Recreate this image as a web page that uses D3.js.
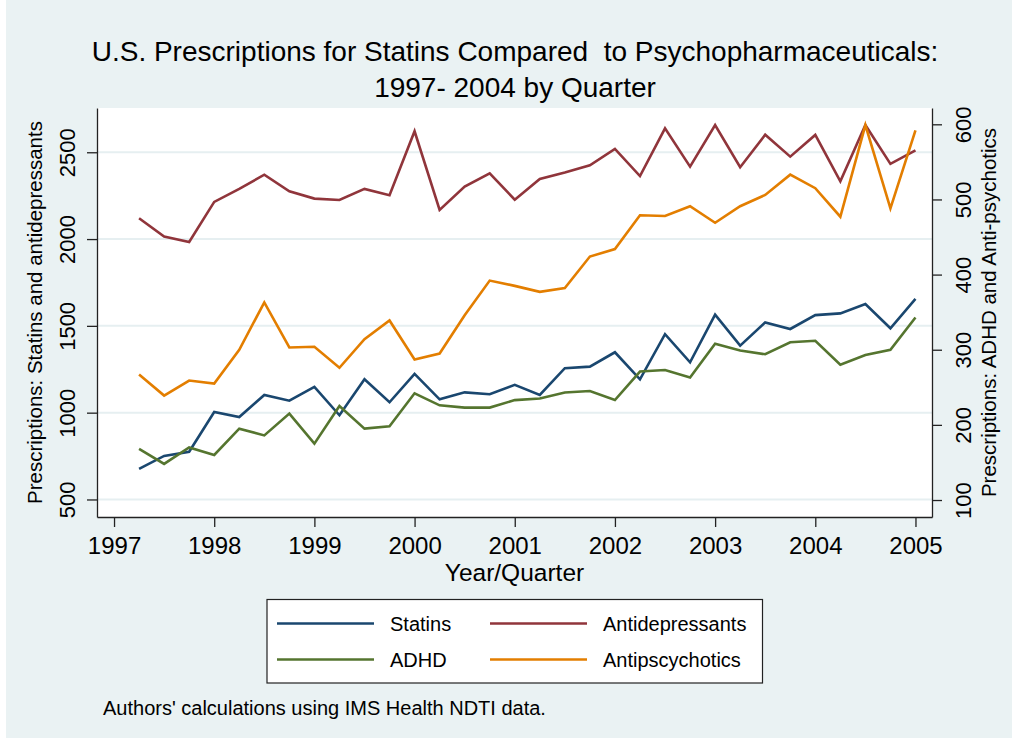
<!DOCTYPE html>
<html>
<head>
<meta charset="utf-8">
<script src="https://cdn.jsdelivr.net/npm/d3@7"></script>
<style>
  html, body { margin: 0; padding: 0; background: #fff; }
  svg text { font-family: "Liberation Sans", Arial, sans-serif; fill: #000; }
</style>
</head>
<body>
<svg width="1012" height="743"></svg>
<script>
// quarterly observations, 1997q1 .. 2004q4
var quarters = ["1997q1","1997q2","1997q3","1997q4","1998q1","1998q2","1998q3","1998q4",
                "1999q1","1999q2","1999q3","1999q4","2000q1","2000q2","2000q3","2000q4",
                "2001q1","2001q2","2001q3","2001q4","2002q1","2002q2","2002q3","2002q4",
                "2003q1","2003q2","2003q3","2003q4","2004q1","2004q2","2004q3","2004q4"];

// left axis series
var statins = [676, 751, 775, 1004, 975, 1102, 1069, 1148, 985, 1192, 1060, 1223, 1077, 1117, 1106, 1160,
               1102, 1256, 1265, 1348, 1192, 1452, 1290, 1565, 1386, 1520, 1482, 1562, 1572, 1626, 1486, 1655];
var antidepressants = [2120, 2014, 1983, 2214, 2289, 2371, 2275, 2233, 2225, 2289, 2252, 2621, 2168, 2302, 2379, 2227,
                       2346, 2383, 2425, 2519, 2363, 2638, 2417, 2657, 2414, 2601, 2475, 2600, 2333, 2657, 2433, 2511];
// right axis series
var adhd = [168, 148, 170, 160, 195, 186, 215, 175, 225, 195, 198, 242, 226, 223, 223, 233,
            235, 243, 245, 233, 271, 273, 263, 308, 299, 294, 310, 312, 280, 293, 300, 343];
var antipsychotics = [267, 239, 259, 255, 300, 363, 303, 304, 276, 314, 339, 287, 295, 346, 392, 385,
                      377, 382, 424, 434, 479, 478, 491, 469, 491, 506, 533, 515, 477, 599, 488, 592];

var xTicks = [1997, 1998, 1999, 2000, 2001, 2002, 2003, 2004, 2005];
var leftTicks = [500, 1000, 1500, 2000, 2500];
var rightTicks = [100, 200, 300, 400, 500, 600];

var svg = d3.select("svg");

var plot = { left: 97, right: 932, top: 108, bottom: 517 };

var x = d3.scaleLinear().domain([1996.83, 2005.165]).range([plot.left, plot.right]);
var yL = d3.scaleLinear().domain([399, 2755]).range([plot.bottom, plot.top]);
var yR = d3.scaleLinear().domain([77.4, 621.7]).range([plot.bottom, plot.top]);

// quarter label -> time at end of quarter
function qtime(q) { return +q.slice(0, 4) + (+q.slice(5)) / 4; }

// background
svg.append("rect").attr("x", 6).attr("y", 0).attr("width", 1006).attr("height", 738)
    .attr("fill", "#eaf2f3");
svg.append("rect")
    .attr("x", plot.left).attr("y", plot.top)
    .attr("width", plot.right - plot.left).attr("height", plot.bottom - plot.top)
    .attr("fill", "#fff");

// grid
svg.append("g").selectAll("line")
    .data(leftTicks)
    .enter().append("line")
    .attr("x1", plot.left).attr("x2", plot.right)
    .attr("y1", function (d) { return yL(d); })
    .attr("y2", function (d) { return yL(d); })
    .attr("stroke", "#e6eff1")
    .attr("stroke-width", 2);

// series
var series = [
    { name: "Statins", values: statins, axis: yL, color: "#1a476f" },
    { name: "Antidepressants", values: antidepressants, axis: yL, color: "#90353b" },
    { name: "ADHD", values: adhd, axis: yR, color: "#55752f" },
    { name: "Antipscychotics", values: antipsychotics, axis: yR, color: "#e37e00" }
];

svg.append("g").selectAll("path")
    .data(series)
    .enter().append("path")
    .attr("fill", "none")
    .attr("stroke", function (d) { return d.color; })
    .attr("stroke-width", 2.6)
    .attr("stroke-linejoin", "miter")
    .attr("d", function (s) {
        return d3.line()
            .x(function (v, i) { return x(qtime(quarters[i])); })
            .y(function (v) { return s.axis(v); })(s.values);
    });

// axes
function styleAxis(g) {
    g.select(".domain").attr("stroke", "#222").attr("stroke-width", 1.3);
    g.selectAll(".tick line").attr("stroke", "#222").attr("stroke-width", 1.3);
    g.selectAll(".tick text").attr("font-size", 22).attr("fill", "#000");
}

var gx = svg.append("g")
    .attr("transform", "translate(0," + plot.bottom + ")")
    .call(d3.axisBottom(x).tickValues(xTicks).tickFormat(d3.format("d")).tickSize(10).tickSizeOuter(0).tickPadding(4))
    .call(styleAxis);
gx.selectAll(".tick text").attr("font-size", 24).attr("dy", null).attr("y", 37);

var gl = svg.append("g")
    .attr("transform", "translate(" + plot.left + ",0)")
    .call(d3.axisLeft(yL).tickValues(leftTicks).tickFormat(d3.format("d")).tickSize(10).tickSizeOuter(0))
    .call(styleAxis);
gl.selectAll(".tick text")
    .attr("x", null).attr("dy", "0.35em")
    .attr("text-anchor", "middle")
    .attr("transform", "translate(-30,0) rotate(-90)");

var gr = svg.append("g")
    .attr("transform", "translate(" + plot.right + ",0)")
    .call(d3.axisRight(yR).tickValues(rightTicks).tickFormat(d3.format("d")).tickSize(10).tickSizeOuter(0))
    .call(styleAxis);
gr.selectAll(".tick text")
    .attr("x", null).attr("dy", "0.35em")
    .attr("text-anchor", "middle")
    .attr("transform", "translate(31,0) rotate(-90)");

var midY = (plot.top + plot.bottom) / 2;

// axis titles
svg.append("text")
    .attr("transform", "translate(35," + midY + ") rotate(-90)")
    .attr("dy", "0.35em")
    .attr("text-anchor", "middle")
    .attr("font-size", 20.5)
    .text("Prescriptions: Statins and antidepressants");

svg.append("text")
    .attr("transform", "translate(989," + midY + ") rotate(-90)")
    .attr("dy", "0.35em")
    .attr("text-anchor", "middle")
    .attr("font-size", 20.5)
    .text("Prescriptions: ADHD and Anti-psychotics");

svg.append("text")
    .attr("x", (plot.left + plot.right) / 2).attr("y", 581)
    .attr("text-anchor", "middle")
    .attr("font-size", 24.5)
    .text("Year/Quarter");

// title
svg.append("text")
    .attr("x", 515).attr("y", 61)
    .attr("text-anchor", "middle")
    .attr("font-size", 28)
    .style("white-space", "pre")
    .text("U.S. Prescriptions for Statins Compared  to Psychopharmaceuticals:");
svg.append("text")
    .attr("x", 515).attr("y", 97)
    .attr("text-anchor", "middle")
    .attr("font-size", 28)
    .text("1997- 2004 by Quarter");

// legend
var legend = svg.append("g");
legend.append("rect")
    .attr("x", 267).attr("y", 599.5).attr("width", 495.5).attr("height", 83.5)
    .attr("fill", "#fff").attr("stroke", "#222").attr("stroke-width", 1.2);

var legendPos = [
    { lx: 277, ty: 623.5 },
    { lx: 490, ty: 623.5 },
    { lx: 277, ty: 659.5 },
    { lx: 490, ty: 659.5 }
];

var items = legend.selectAll("g.item")
    .data(series)
    .enter().append("g")
    .attr("class", "item")
    .attr("transform", function (d, i) { return "translate(" + legendPos[i].lx + "," + legendPos[i].ty + ")"; });

items.append("line")
    .attr("x1", 0).attr("x2", 97)
    .attr("stroke", function (d) { return d.color; })
    .attr("stroke-width", 2.6);

items.append("text")
    .attr("x", 113).attr("y", 7)
    .attr("font-size", 20)
    .text(function (d) { return d.name; });

// note
svg.append("text")
    .attr("x", 103).attr("y", 715)
    .attr("font-size", 20)
    .text("Authors' calculations using IMS Health NDTI data.");
</script>
</body>
</html>
